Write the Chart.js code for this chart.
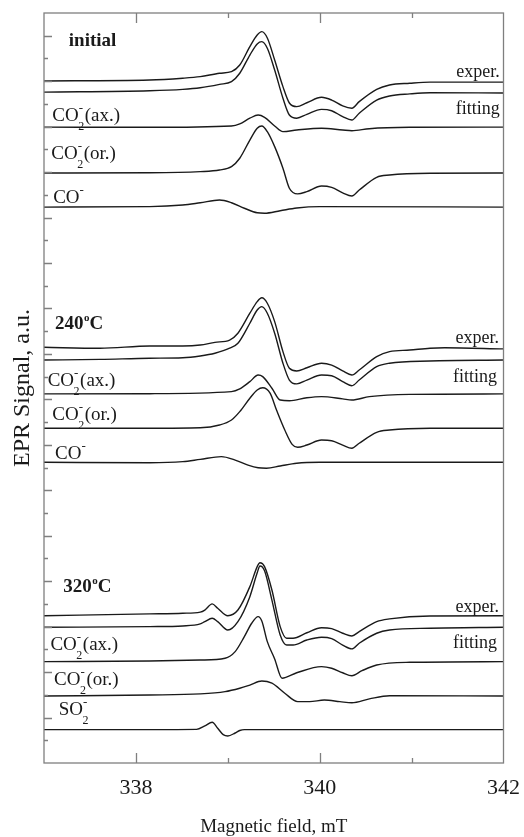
<!DOCTYPE html>
<html>
<head>
<meta charset="utf-8">
<title>EPR spectra</title>
<script src="https://cdn.jsdelivr.net/npm/chart.js@4.4.0/dist/chart.umd.min.js"></script>
<style>
  html, body { margin: 0; padding: 0; background: #fff; }
  #wrap { width: 524px; height: 837px; }
</style>
</head>
<body>
<div id="wrap"><canvas id="eprChart"></canvas></div>
<script>
"use strict";

// Magnetic field axis (mT) and the ticks that carry a number
const fieldRange = [337, 342];
const fieldLabels = [338, 340, 342];
const signalRange = [0, 33];

// Spectra: [field mT, signal a.u. incl. vertical offset]
// --- initial ---
const initialExper = [[337.00,30.01],[338.15,30.05],[338.51,30.13],[338.70,30.20],[338.91,30.35],[339.04,30.42],[339.13,30.71],[339.24,31.52],[339.32,32.03],[339.37,32.18],[339.43,31.90],[339.51,30.93],[339.60,29.76],[339.67,29.04],[339.75,28.88],[339.86,29.05],[340.02,29.29],[340.13,29.17],[340.25,28.91],[340.35,28.81],[340.43,29.10],[340.62,29.64],[340.76,29.83],[340.98,29.91],[341.20,29.96],[342.00,29.96]];
const initialFit = [[337.00,29.52],[338.15,29.58],[338.51,29.64],[338.70,29.71],[338.91,29.86],[339.04,29.98],[339.13,30.35],[339.24,31.15],[339.32,31.64],[339.37,31.74],[339.43,31.45],[339.51,30.49],[339.60,29.25],[339.67,28.51],[339.75,28.37],[339.86,28.54],[340.02,28.76],[340.13,28.70],[340.25,28.44],[340.35,28.29],[340.43,28.59],[340.62,29.17],[340.76,29.35],[340.98,29.44],[341.20,29.49],[342.00,29.48]];
const initialCO2ax = [[337.00,27.98],[338.15,27.97],[339.04,28.03],[339.13,28.12],[339.24,28.37],[339.33,28.51],[339.40,28.41],[339.51,28.03],[339.60,27.78],[339.75,27.85],[340.02,27.93],[340.25,27.85],[340.35,27.82],[340.54,27.91],[340.98,27.97],[342.00,27.98]];
const initialCO2or = [[337.00,25.96],[338.15,25.97],[338.70,26.02],[338.91,26.09],[339.04,26.24],[339.13,26.61],[339.24,27.41],[339.32,27.93],[339.37,28.03],[339.43,27.78],[339.51,27.12],[339.60,26.17],[339.67,25.29],[339.76,25.04],[339.86,25.14],[340.02,25.39],[340.13,25.33],[340.25,25.09],[340.35,24.95],[340.43,25.21],[340.62,25.77],[340.76,25.87],[341.20,25.95],[342.00,25.96]];
const initialCO = [[337.00,24.46],[338.15,24.48],[338.51,24.55],[338.70,24.65],[338.91,24.77],[339.04,24.65],[339.18,24.41],[339.32,24.21],[339.40,24.19],[339.57,24.30],[339.75,24.42],[340.00,24.48],[342.00,24.46]];

// --- 240 C ---
const t240Exper = [[337.00,18.29],[337.61,18.25],[338.15,18.35],[338.51,18.35],[338.70,18.39],[338.86,18.51],[339.02,18.61],[339.11,18.91],[339.24,19.79],[339.32,20.30],[339.37,20.47],[339.43,20.23],[339.51,19.42],[339.60,18.10],[339.67,17.37],[339.75,17.25],[339.86,17.39],[340.02,17.59],[340.13,17.51],[340.25,17.25],[340.35,17.07],[340.43,17.29],[340.62,17.88],[340.76,18.10],[340.98,18.17],[341.20,18.25],[341.36,18.27],[342.00,18.22]];
const t240Fit = [[337.00,17.73],[337.61,17.76],[338.15,17.81],[338.51,17.83],[338.70,17.91],[338.86,18.03],[339.02,18.25],[339.11,18.47],[339.24,19.35],[339.32,19.93],[339.37,20.08],[339.43,19.79],[339.51,18.91],[339.60,17.59],[339.67,16.85],[339.75,16.68],[339.86,16.85],[340.02,17.07],[340.13,17.04],[340.25,16.78],[340.35,16.60],[340.43,16.85],[340.62,17.44],[340.76,17.59],[341.20,17.69],[342.00,17.73]];
const t240CO2ax = [[337.00,16.24],[338.15,16.25],[339.04,16.34],[339.13,16.46],[339.24,16.78],[339.33,17.07],[339.38,17.00],[339.48,16.49],[339.57,15.97],[339.67,15.94],[339.86,16.07],[340.02,16.12],[340.25,16.02],[340.35,15.97],[340.54,16.12],[340.98,16.22],[342.00,16.24]];
const t240CO2or = [[337.00,14.73],[338.15,14.73],[338.70,14.75],[338.91,14.87],[339.04,15.09],[339.13,15.46],[339.24,16.05],[339.32,16.41],[339.38,16.51],[339.46,16.27],[339.53,15.53],[339.62,14.65],[339.70,14.02],[339.76,13.89],[339.86,13.99],[340.02,14.21],[340.13,14.18],[340.25,13.99],[340.35,13.85],[340.43,14.07],[340.62,14.55],[340.76,14.65],[341.20,14.73],[342.00,14.73]];
const t240CO = [[337.00,13.23],[338.15,13.21],[338.51,13.26],[338.70,13.36],[338.93,13.48],[339.08,13.33],[339.22,13.11],[339.33,12.99],[339.42,12.97],[339.57,13.07],[339.75,13.19],[340.00,13.23],[342.00,13.23]];

// --- 320 C ---
const t320Exper = [[337.00,6.48],[338.15,6.56],[338.51,6.59],[338.70,6.64],[338.75,6.73],[338.83,7.00],[338.89,6.81],[339.00,6.48],[339.11,6.73],[339.24,7.76],[339.32,8.64],[339.35,8.81],[339.40,8.64],[339.48,7.61],[339.57,6.00],[339.64,5.49],[339.71,5.49],[339.86,5.73],[340.02,5.95],[340.13,5.91],[340.25,5.71],[340.35,5.59],[340.43,5.78],[340.62,6.22],[340.76,6.34],[341.20,6.47],[342.00,6.48]];
const t320Fit = [[337.00,5.97],[338.15,6.00],[338.51,6.03],[338.70,6.12],[338.75,6.22],[338.83,6.37],[338.89,6.22],[339.00,5.85],[339.11,6.22],[339.24,7.32],[339.32,8.37],[339.35,8.67],[339.40,8.46],[339.48,7.17],[339.57,5.63],[339.64,5.19],[339.71,5.19],[339.86,5.41],[340.02,5.53],[340.13,5.47],[340.25,5.19],[340.35,5.02],[340.43,5.27],[340.62,5.71],[340.76,5.85],[341.20,5.93],[342.00,5.97]];
const t320CO2ax = [[337.00,4.46],[338.15,4.49],[338.70,4.53],[338.97,4.61],[339.08,4.90],[339.18,5.56],[339.26,6.15],[339.33,6.44],[339.37,6.25],[339.43,5.34],[339.51,4.58],[339.59,3.73],[339.75,3.97],[340.02,4.24],[340.13,4.17],[340.25,3.97],[340.35,3.84],[340.46,4.06],[340.62,4.31],[340.98,4.43],[342.00,4.46]];
const t320CO2or = [[337.00,2.95],[338.15,2.99],[338.70,3.04],[338.97,3.14],[339.13,3.29],[339.24,3.43],[339.37,3.61],[339.48,3.51],[339.62,3.07],[339.76,2.70],[339.89,2.70],[340.05,2.77],[340.22,2.70],[340.35,2.65],[340.54,2.82],[340.76,2.96],[342.00,2.95]];
const t320SO2 = [[337.00,1.47],[338.15,1.47],[338.66,1.48],[338.75,1.63],[338.83,1.79],[338.89,1.53],[338.95,1.25],[339.00,1.19],[339.08,1.32],[339.13,1.43],[339.18,1.47],[342.00,1.47]];

const spectra = [
    initialExper, initialFit, initialCO2ax, initialCO2or, initialCO,
    t240Exper, t240Fit, t240CO2ax, t240CO2or, t240CO,
    t320Exper, t320Fit, t320CO2ax, t320CO2or, t320SO2
];

// Text on the plot (anchor in field / signal units, at the text baseline)
const notes = [
    { kind: 'title', main: 'initial', x: 337.27, y: 31.56 },
    { kind: 'plain', main: 'exper.', x: 341.96, y: 30.17, right: true },
    { kind: 'plain', main: 'fitting', x: 341.96, y: 28.56, right: true },
    { kind: 'species', main: 'CO', sub: '2', sup: '-', tail: '(ax.)', x: 337.09, y: 28.26 },
    { kind: 'species', main: 'CO', sub: '2', sup: '-', tail: '(or.)', x: 337.08, y: 26.56 },
    { kind: 'species', main: 'CO', sub: '', sup: '-', tail: '', x: 337.10, y: 24.63 },

    { kind: 'title', main: '240', sup: 'o', tail: 'C', x: 337.12, y: 19.10 },
    { kind: 'plain', main: 'exper.', x: 341.95, y: 18.47, right: true },
    { kind: 'plain', main: 'fitting', x: 341.93, y: 16.78, right: true },
    { kind: 'species', main: 'CO', sub: '2', sup: '-', tail: '(ax.)', x: 337.04, y: 16.59 },
    { kind: 'species', main: 'CO', sub: '2', sup: '-', tail: '(or.)', x: 337.09, y: 15.09 },
    { kind: 'species', main: 'CO', sub: '', sup: '-', tail: '', x: 337.12, y: 13.36 },

    { kind: 'title', main: '320', sup: 'o', tail: 'C', x: 337.21, y: 7.51 },
    { kind: 'plain', main: 'exper.', x: 341.95, y: 6.66, right: true },
    { kind: 'plain', main: 'fitting', x: 341.93, y: 5.05, right: true },
    { kind: 'species', main: 'CO', sub: '2', sup: '-', tail: '(ax.)', x: 337.07, y: 4.97 },
    { kind: 'species', main: 'CO', sub: '2', sup: '-', tail: '(or.)', x: 337.11, y: 3.43 },
    { kind: 'species', main: 'SO', sub: '2', sup: '-', tail: '', x: 337.16, y: 2.11 }
];

const SERIF = '"Liberation Serif", "Times New Roman", serif';
const INK = '#1a1a1a';
const FRAME = '#7f7f7f';

// frame with inward ticks, like the original plot
const frameTicks = {
    id: 'frameTicks',
    afterDatasetsDraw(chart) {
        const { ctx, chartArea: a, scales: { x, y } } = chart;
        ctx.save();
        ctx.strokeStyle = FRAME;
        ctx.lineWidth = 1.3;
        ctx.strokeRect(a.left, a.top, a.right - a.left, a.bottom - a.top);
        ctx.beginPath();
        x.ticks.forEach(t => {
            if (t.value <= x.min || t.value >= x.max) return;
            const px = Math.round(x.getPixelForValue(t.value)) + 0.5;
            const len = fieldLabels.includes(t.value) ? 10 : 5;
            ctx.moveTo(px, a.top); ctx.lineTo(px, a.top + len);
            ctx.moveTo(px, a.bottom); ctx.lineTo(px, a.bottom - len);
        });
        y.ticks.forEach(t => {
            if (t.value <= y.min || t.value >= y.max) return;
            const py = Math.round(y.getPixelForValue(t.value)) + 0.5;
            const len = t.value % 2 === 0 ? 8 : 4;
            ctx.moveTo(a.left, py); ctx.lineTo(a.left + len, py);
        });
        ctx.stroke();
        ctx.restore();
    }
};

// labels with sub/superscripts
const plotNotes = {
    id: 'plotNotes',
    afterDatasetsDraw(chart) {
        const { ctx, scales: { x, y } } = chart;
        ctx.save();
        ctx.fillStyle = INK;
        ctx.textBaseline = 'alphabetic';
        notes.forEach(n => {
            const px = x.getPixelForValue(n.x);
            const py = y.getPixelForValue(n.y);
            if (n.kind === 'plain') {
                ctx.font = '18px ' + SERIF;
                ctx.textAlign = n.right ? 'right' : 'left';
                ctx.fillText(n.main, px, py);
                return;
            }
            ctx.textAlign = 'left';
            let cx = px;
            if (n.kind === 'title') {
                ctx.font = 'bold 19px ' + SERIF;
                ctx.fillText(n.main, cx, py);
                cx += ctx.measureText(n.main).width;
                if (n.sup) {
                    ctx.font = 'bold 11px ' + SERIF;
                    ctx.fillText(n.sup, cx + 0.5, py - 8);
                    cx += ctx.measureText(n.sup).width + 0.5;
                    ctx.font = 'bold 19px ' + SERIF;
                    ctx.fillText(n.tail, cx, py);
                }
                return;
            }
            // species: main + stacked sub/sup + tail
            ctx.font = '19px ' + SERIF;
            ctx.fillText(n.main, cx, py);
            cx += ctx.measureText(n.main).width;
            ctx.font = '12px ' + SERIF;
            const wSub = n.sub ? ctx.measureText(n.sub).width : 0;
            if (n.sub) ctx.fillText(n.sub, cx - 0.5, py + 9);
            ctx.font = '13px ' + SERIF;
            const wSup = ctx.measureText(n.sup).width;
            ctx.fillText(n.sup, cx, py - 9);
            cx += Math.max(wSub, wSup);
            if (n.tail) {
                ctx.font = '19px ' + SERIF;
                ctx.fillText(n.tail, cx, py);
            }
        });
        ctx.restore();
    }
};

const datasets = spectra.map(s => ({
    data: s.map(([f, v]) => ({ x: f, y: v })),
    borderColor: INK,
    borderWidth: 1.4,
    pointRadius: 0,
    fill: false,
    cubicInterpolationMode: 'monotone'
}));

new Chart(document.getElementById('eprChart'), {
    type: 'line',
    data: { datasets: datasets },
    options: {
        responsive: true,
        maintainAspectRatio: false,
        animation: false,
        devicePixelRatio: 1,
        layout: { padding: { top: 13, right: 20, left: 0, bottom: 0 } },
        plugins: {
            legend: { display: false },
            tooltip: { enabled: false }
        },
        scales: {
            x: {
                type: 'linear',
                position: 'bottom',
                min: fieldRange[0],
                max: fieldRange[1],
                grid: { display: false },
                border: { display: false },
                ticks: {
                    stepSize: 1,
                    autoSkip: false,
                    maxRotation: 0,
                    padding: 4,
                    color: INK,
                    font: { family: SERIF, size: 22 },
                    callback: v => fieldLabels.includes(v) ? String(v) : ''
                },
                title: {
                    display: true,
                    text: 'Magnetic field, mT',
                    color: INK,
                    font: { family: SERIF, size: 19, lineHeight: 1 },
                    padding: 0
                },
                afterFit: s => { s.height = 74; }
            },
            y: {
                type: 'linear',
                min: signalRange[0],
                max: signalRange[1],
                grid: { display: false },
                border: { display: false },
                ticks: { stepSize: 1, display: false },
                title: {
                    display: true,
                    text: 'EPR Signal, a.u.',
                    color: INK,
                    font: { family: SERIF, size: 24, lineHeight: 1.2 },
                    padding: { top: 8, bottom: 0 }
                },
                afterFit: s => { s.width = 44; }
            }
        }
    },
    plugins: [frameTicks, plotNotes]
});
</script>
</body>
</html>
